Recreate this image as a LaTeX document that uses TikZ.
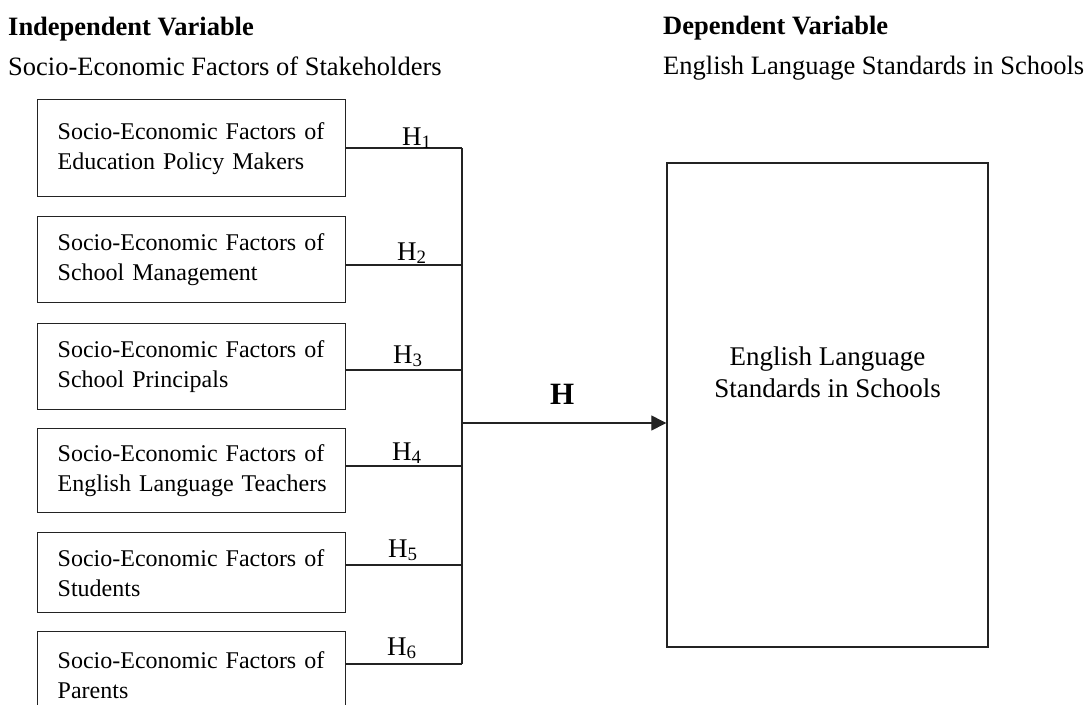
\documentclass[tikz,border=0pt]{standalone}
\usepackage{fontspec}
\setmainfont{Liberation Serif}
\usetikzlibrary{arrows.meta}
\definecolor{linec}{RGB}{35,35,35}
\newcommand{\firstln}{\makebox[268pt][s]{Socio-Economic Factors of}}
\begin{document}
\begin{tikzpicture}[x=1pt,y=-1pt,
  factorbox/.style={draw=linec, line width=1.4pt, anchor=north west,
    text width=268pt, inner xsep=20pt, inner ysep=0pt, align=left,
    font=\fontsize{24}{30}\selectfont, minimum height=#1},
  hlabel/.style={anchor=base west, inner sep=0pt, font=\fontsize{27}{30}\selectfont},
  header/.style={anchor=base west, inner sep=0pt, font=\fontsize{26.5}{30}\selectfont},
  bigbox/.style={draw=linec, line width=1.4pt, minimum width=321pt, minimum height=484pt, inner sep=0pt},
  bigtext/.style={align=center, font=\fontsize{27}{32}\selectfont, inner sep=0pt},
  conn/.style={draw=linec, line width=1.3pt},
  arrowconn/.style={conn, -{Triangle[length=15pt,width=15pt]}}
]
\useasboundingbox (0,0) rectangle (1091,704);

% headers
\node[header, font=\fontsize{26.5}{30}\selectfont\bfseries] (ivh) at (8,35) {Independent Variable};
\node[header] (ivs) at (8,75) {Socio-Economic Factors of Stakeholders};
\node[header, font=\fontsize{26.5}{30}\selectfont\bfseries] (dvh) at (663,34) {Dependent Variable};
\node[header] (dvs) at (663,74) {English Language Standards in Schools};

% factor boxes
\node[factorbox=97pt] (b1) at (37,99) {\firstln\\\mbox{Education Policy Makers}};
\node[factorbox=86pt] (b2) at (37,216) {\firstln\\\mbox{School Management}};
\node[factorbox=86pt] (b3) at (37,323) {\firstln\\\mbox{School Principals}};
\node[factorbox=84pt] (b4) at (37,428) {\firstln\\\mbox{English Language Teachers}};
\node[factorbox=80pt] (b5) at (37,532) {\firstln\\\mbox{Students}};
\node[factorbox=87pt] (b6) at (37,631) {\firstln\\\mbox{Parents}};

% dependent variable box
\node[bigbox] (dv) at (827.5,405) {};
\node[bigtext] (dvt) at (827.5,372) {English Language\\Standards in Schools};

% junctions on the bus
\coordinate (j1) at (462,148);
\coordinate (j2) at (462,265);
\coordinate (j3) at (462,370);
\coordinate (j4) at (462,466);
\coordinate (j5) at (462,565);
\coordinate (j6) at (462,664);
\coordinate (jh) at (462,423);

\draw[conn] (b1.east |- j1) -- (j1);
\draw[conn] (b2.east |- j2) -- (j2);
\draw[conn] (b3.east |- j3) -- (j3);
\draw[conn] (b4.east |- j4) -- (j4);
\draw[conn] (b5.east |- j5) -- (j5);
\draw[conn] (b6.east |- j6) -- (j6);
\draw[conn] (j1) -- (j6);
\draw[arrowconn] (jh) -- (dv.west |- jh);

% labels
\node[hlabel] (h1) at (402,145) {H\textsubscript{1}};
\node[hlabel] (h2) at (397,260) {H\textsubscript{2}};
\node[hlabel] (h3) at (393,363) {H\textsubscript{3}};
\node[hlabel] (h4) at (392,460) {H\textsubscript{4}};
\node[hlabel] (h5) at (388,557) {H\textsubscript{5}};
\node[hlabel] (h6) at (387,655) {H\textsubscript{6}};
\node[hlabel, font=\fontsize{31}{34}\selectfont\bfseries] (hh) at (550,404) {H};
\end{tikzpicture}
\end{document}
